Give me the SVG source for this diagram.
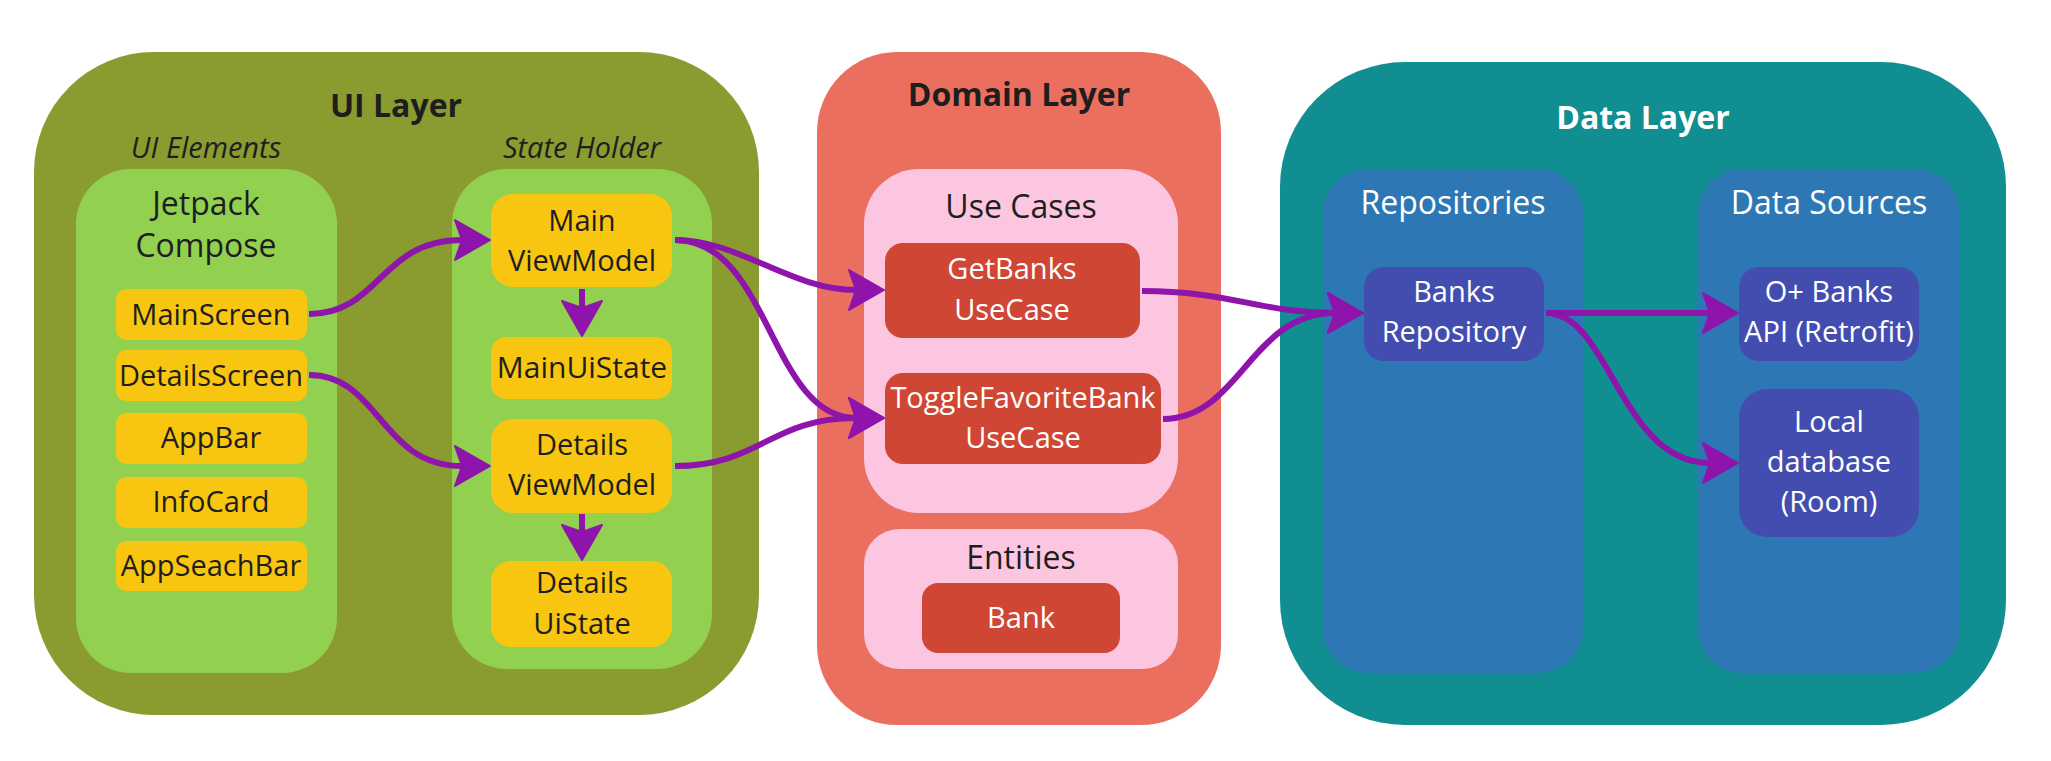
<svg xmlns="http://www.w3.org/2000/svg" width="2051" height="761" viewBox="0 0 2051 761">
<defs>
<style>
text{font-family:"Open Sans","Noto Sans","Liberation Sans",sans-serif;font-size:29px;text-anchor:middle;}
.title{font-weight:700;font-size:32px;}
.head{font-size:32px;}
.dark{fill:#1e1e1e;}
.light{fill:#ffffff;}
.ital{font-style:italic;fill:#1e1e1e;font-size:29px;}
.ui-layer{fill:#8A9B30;}
.green{fill:#92D050;}
.yellow{fill:#F8C611;}
.domain{fill:#EB6F5F;}
.pink{fill:#FCC5E0;}
.red{fill:#CF4635;}
.data{fill:#118E91;}
.blue{fill:#2D78B4;}
.indigo{fill:#434DB0;}
.conn path{fill:none;stroke:#8F14AB;stroke-width:6;marker-end:url(#arrow);}
</style>
<marker id="arrow" viewBox="-10 -24 42 48" refX="0" refY="0" markerWidth="42" markerHeight="48" markerUnits="userSpaceOnUse" orient="auto">
<path d="M-7,-20 L28,0 L-7,20 L0,0 Z" fill="#8F14AB" stroke="#8F14AB" stroke-width="2" stroke-linejoin="round"/>
</marker>
</defs>
<rect width="2051" height="761" fill="#ffffff"/>

<g id="ui-layer">
<rect class="ui-layer" x="34" y="52" width="725" height="663" rx="120"/>
<text class="title dark" x="396" y="117">UI Layer</text>
<text class="ital" x="206" y="158">UI Elements</text>
<text class="ital" x="582" y="158">State Holder</text>
</g>
<g id="jetpack-compose">
<rect class="green" x="76" y="169" width="261" height="504" rx="55"/>
<text class="head dark" x="206" y="215">Jetpack</text>
<text class="head dark" x="206" y="257">Compose</text>
</g>
<g id="state-holder">
<rect class="green" x="452" y="169" width="260" height="500" rx="55"/>
</g>
<g id="main-screen"><rect class="yellow" x="116" y="289" width="191" height="51" rx="10"/><text class="dark" x="211" y="325">MainScreen</text></g>
<g id="details-screen"><rect class="yellow" x="116" y="350" width="191" height="51" rx="10"/><text class="dark" x="211" y="386">DetailsScreen</text></g>
<g id="app-bar"><rect class="yellow" x="116" y="413" width="191" height="51" rx="10"/><text class="dark" x="211" y="448">AppBar</text></g>
<g id="info-card"><rect class="yellow" x="116" y="477" width="191" height="51" rx="10"/><text class="dark" x="211" y="512">InfoCard</text></g>
<g id="app-search-bar"><rect class="yellow" x="116" y="541" width="191" height="50" rx="10"/><text class="dark" x="211" y="576">AppSeachBar</text></g>
<g id="main-viewmodel"><rect class="yellow" x="491" y="194" width="181" height="93" rx="22"/><text class="dark" x="582" y="231">Main</text><text class="dark" x="582" y="271">ViewModel</text></g>
<g id="main-uistate"><rect class="yellow" x="491" y="337" width="181" height="62" rx="15"/><text class="dark" x="582" y="378" style="font-size:30px">MainUiState</text></g>
<g id="details-viewmodel"><rect class="yellow" x="491" y="419" width="181" height="94" rx="22"/><text class="dark" x="582" y="455">Details</text><text class="dark" x="582" y="495">ViewModel</text></g>
<g id="details-uistate"><rect class="yellow" x="491" y="561" width="181" height="86" rx="20"/><text class="dark" x="582" y="593">Details</text><text class="dark" x="582" y="634">UiState</text></g>

<g id="domain-layer">
<rect class="domain" x="817" y="52" width="404" height="673" rx="80"/>
<text class="title dark" x="1019" y="106">Domain Layer</text>
</g>
<g id="use-cases">
<rect class="pink" x="864" y="169" width="314" height="344" rx="55"/>
<text class="head dark" x="1021" y="218">Use Cases</text>
</g>
<g id="get-banks"><rect class="red" x="885" y="243" width="255" height="95" rx="18"/><text class="light" x="1012" y="279">GetBanks</text><text class="light" x="1012" y="320">UseCase</text></g>
<g id="toggle-favorite"><rect class="red" x="885" y="373" width="276" height="91" rx="18"/><text class="light" x="1023" y="408">ToggleFavoriteBank</text><text class="light" x="1023" y="448">UseCase</text></g>
<g id="entities">
<rect class="pink" x="864" y="529" width="314" height="140" rx="35"/>
<text class="head dark" x="1021" y="569">Entities</text>
</g>
<g id="bank"><rect class="red" x="922" y="583" width="198" height="70" rx="16"/><text class="light" x="1021" y="628">Bank</text></g>

<g id="data-layer">
<rect class="data" x="1280" y="62" width="726" height="663" rx="125"/>
<text class="title light" x="1643" y="129">Data Layer</text>
</g>
<g id="repositories">
<rect class="blue" x="1323" y="169" width="260" height="504" rx="45"/>
<text class="head light" x="1453" y="214">Repositories</text>
</g>
<g id="data-sources">
<rect class="blue" x="1698" y="169" width="262" height="504" rx="45"/>
<text class="head light" x="1829" y="214">Data Sources</text>
</g>
<g id="banks-repository"><rect class="indigo" x="1364" y="267" width="180" height="94" rx="20"/><text class="light" x="1454" y="302">Banks</text><text class="light" x="1454" y="342">Repository</text></g>
<g id="banks-api"><rect class="indigo" x="1739" y="267" width="180" height="94" rx="20"/><text class="light" x="1829" y="302">O+ Banks</text><text class="light" x="1829" y="342">API (Retrofit)</text></g>
<g id="local-db"><rect class="indigo" x="1739" y="389" width="180" height="148" rx="28"/><text class="light" x="1829" y="432">Local</text><text class="light" x="1829" y="472">database</text><text class="light" x="1829" y="512">(Room)</text></g>

<g id="connectors" class="conn">
<path d="M309,314 C380,314 380,240 462,240"/>
<path d="M309,375 C380,375 380,466 462,466"/>
<path d="M582,289 L582,308"/>
<path d="M582,514 L582,532"/>
<path d="M675,240 C740,240 790,290 856,290"/>
<path d="M675,240 C770,240 770,418 856,418"/>
<path d="M675,466 C760,466 770,418 856,418"/>
<path d="M1142,291 C1230,291 1260,313 1335,313"/>
<path d="M1163,419 C1240,419 1250,313 1335,313"/>
<path d="M1546,313 L1710,313"/>
<path d="M1546,313 C1610,313 1620,463 1710,463"/>
</g>
</svg>
